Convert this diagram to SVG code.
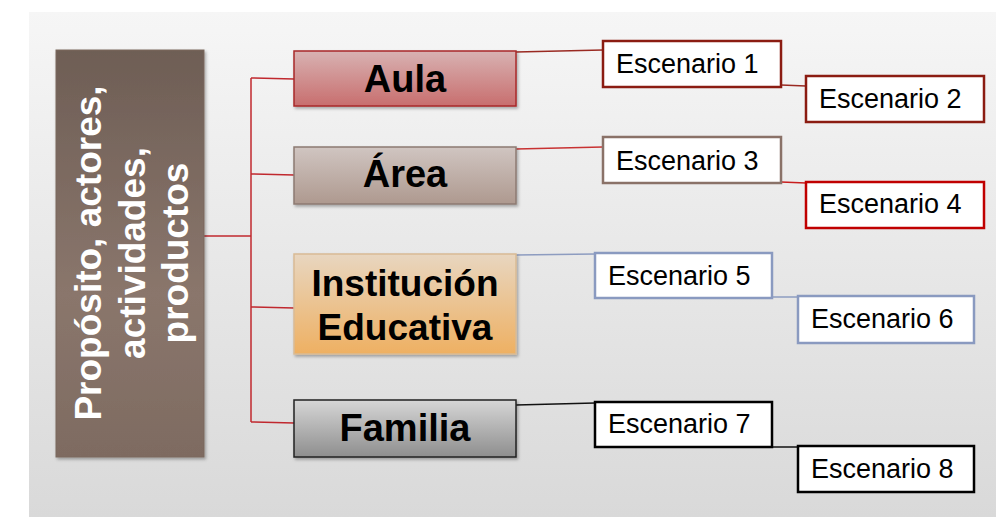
<svg xmlns="http://www.w3.org/2000/svg" width="996" height="517" viewBox="0 0 996 517">
<defs>
<linearGradient id="bg" x1="0" y1="0" x2="0" y2="1"><stop offset="0" stop-color="#f6f6f6"/><stop offset="1" stop-color="#d9d9d9"/></linearGradient>
<linearGradient id="gLeft" x1="0" y1="0" x2="0" y2="1"><stop offset="0" stop-color="#6e5e55"/><stop offset="0.6" stop-color="#8a766c"/><stop offset="1" stop-color="#7e6b61"/></linearGradient>
<linearGradient id="gAula" x1="0" y1="0" x2="0" y2="1"><stop offset="0" stop-color="#d8b2b2"/><stop offset="1" stop-color="#c86e6e"/></linearGradient>
<linearGradient id="gArea" x1="0" y1="0" x2="0" y2="1"><stop offset="0" stop-color="#d0c5c1"/><stop offset="1" stop-color="#ae998f"/></linearGradient>
<linearGradient id="gInst" x1="0" y1="0" x2="0" y2="1"><stop offset="0" stop-color="#e8d6c0"/><stop offset="1" stop-color="#eeb062"/></linearGradient>
<linearGradient id="gFam" x1="0" y1="0" x2="0" y2="1"><stop offset="0" stop-color="#d6d6d6"/><stop offset="1" stop-color="#8e8e8e"/></linearGradient>
<filter id="sh" x="-10%" y="-10%" width="130%" height="130%"><feDropShadow dx="1.5" dy="2" stdDeviation="1.5" flood-color="#000" flood-opacity="0.3"/></filter>
</defs>
<style>
.main{font-family:"Liberation Sans",Arial,sans-serif;font-weight:bold;font-size:38px;fill:#000;text-anchor:middle}
.left{font-family:"Liberation Sans",Arial,sans-serif;font-weight:bold;font-size:37px;fill:#fff;text-anchor:middle}
.esc{font-family:"Liberation Sans",Arial,sans-serif;font-size:27px;fill:#000}
.box{fill:#fff;stroke-width:2.5}
.conn line, .conn polyline{fill:none;stroke-width:1.5}
</style>
<rect x="29" y="12" width="967" height="505" fill="url(#bg)"/>

<g class="conn" id="connectors">
<polyline points="204,236 251,236" stroke="#c0282e"/>
<polyline points="251,78 251,422" stroke="#c0282e"/>
<line x1="251" y1="78" x2="294" y2="79" stroke="#c0282e"/>
<line x1="251" y1="174" x2="294" y2="175" stroke="#c0282e"/>
<line x1="251" y1="307" x2="294" y2="308" stroke="#c0282e"/>
<line x1="251" y1="422" x2="294" y2="423" stroke="#c0282e"/>
<line x1="516" y1="52" x2="603" y2="50" stroke="#9a2a22"/>
<line x1="781" y1="85" x2="806" y2="86" stroke="#9a2a22"/>
<line x1="516" y1="149" x2="603" y2="147" stroke="#c83232"/>
<line x1="781" y1="182" x2="806" y2="183" stroke="#c81e1e"/>
<line x1="516" y1="255" x2="595" y2="254" stroke="#8d9cc0"/>
<line x1="772" y1="297" x2="798" y2="297" stroke="#8d9cc0"/>
<line x1="516" y1="405" x2="595" y2="403" stroke="#111"/>
<line x1="772" y1="447" x2="798" y2="447" stroke="#111"/>
</g>

<g id="node-proposito">
<rect x="56" y="50" width="148" height="407" fill="url(#gLeft)" stroke="#7a685e" stroke-width="1" filter="url(#sh)"/>
<text class="left" transform="translate(101,253) rotate(-90)">Propósito, actores,</text>
<text class="left" transform="translate(145,253) rotate(-90)">actividades,</text>
<text class="left" transform="translate(188,253) rotate(-90)">productos</text>
</g>

<g id="node-aula">
<rect x="294" y="51" width="222" height="55" fill="url(#gAula)" stroke="#a8282a" stroke-width="1.5" filter="url(#sh)"/>
<text class="main" x="405" y="92">Aula</text>
</g>
<g id="node-area">
<rect x="294" y="147" width="222" height="57" fill="url(#gArea)" stroke="#8c7a72" stroke-width="1.5" filter="url(#sh)"/>
<text class="main" x="405" y="187">Área</text>
</g>
<g id="node-institucion">
<rect x="294" y="254" width="222" height="100" fill="url(#gInst)" stroke="#d9bb95" stroke-width="1.5" filter="url(#sh)"/>
<text class="main" x="405" y="296" style="font-size:37px">Institución</text>
<text class="main" x="405" y="340" style="font-size:37px">Educativa</text>
</g>
<g id="node-familia">
<rect x="294" y="400" width="222" height="57" fill="url(#gFam)" stroke="#222" stroke-width="1.5" filter="url(#sh)"/>
<text class="main" x="405" y="441">Familia</text>
</g>

<g id="node-e1"><rect class="box" x="603" y="41" width="178" height="46" stroke="#8b1c12"/><text class="esc" x="616" y="73">Escenario 1</text></g>
<g id="node-e2"><rect class="box" x="806" y="76" width="178" height="46" stroke="#8b1c12"/><text class="esc" x="819" y="108">Escenario 2</text></g>
<g id="node-e3"><rect class="box" x="603" y="137" width="178" height="46" stroke="#8a7268"/><text class="esc" x="616" y="170">Escenario 3</text></g>
<g id="node-e4"><rect class="box" x="806" y="182" width="178" height="46" stroke="#c00000"/><text class="esc" x="819" y="213">Escenario 4</text></g>
<g id="node-e5"><rect class="box" x="595" y="253" width="177" height="45" stroke="#8a9ac0"/><text class="esc" x="608" y="285">Escenario 5</text></g>
<g id="node-e6"><rect class="box" x="798" y="296" width="176" height="47" stroke="#8a9ac0"/><text class="esc" x="811" y="328">Escenario 6</text></g>
<g id="node-e7"><rect class="box" x="595" y="402" width="177" height="45" stroke="#000"/><text class="esc" x="608" y="433">Escenario 7</text></g>
<g id="node-e8"><rect class="box" x="798" y="446" width="176" height="46" stroke="#000"/><text class="esc" x="811" y="478">Escenario 8</text></g>
</svg>
